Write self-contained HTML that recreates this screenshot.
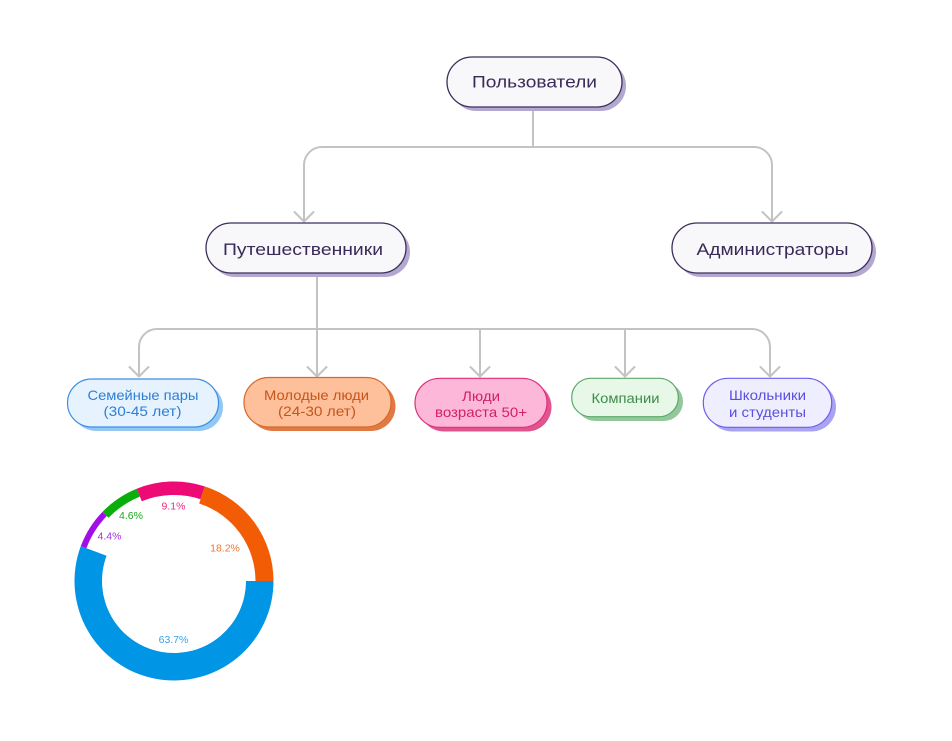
<!DOCTYPE html>
<html>
<head>
<meta charset="utf-8">
<style>
  html,body{margin:0;padding:0;background:#ffffff;}
  svg{display:block;}
  text{font-family:"Liberation Sans","Noto Sans CJK SC",sans-serif;}
</style>
</head>
<body>
<svg width="952" height="741" viewBox="0 0 952 741" xmlns="http://www.w3.org/2000/svg">
  <rect width="952" height="741" fill="#ffffff"/>

  <!-- Connectors -->
  <g fill="none" stroke="#c3c3c3" stroke-width="2" stroke-linecap="round" stroke-linejoin="round">
    <path d="M533 107 V147"/>
    <path d="M304 221 V165 A18 18 0 0 1 322 147 H754 A18 18 0 0 1 772 165 V221"/>
    <path d="M294.5 212 L304 221.5 L313.5 212"/>
    <path d="M762.5 212 L772 221.5 L781.5 212"/>

    <path d="M317 273 V376"/>
    <path d="M139 376 V347 A18 18 0 0 1 157 329 H752 A18 18 0 0 1 770 347 V376"/>
    <path d="M480 329 V376"/>
    <path d="M625 329 V376"/>
    <path d="M129.5 367 L139 376.5 L148.5 367"/>
    <path d="M307.5 367 L317 376.5 L326.5 367"/>
    <path d="M470.5 367 L480 376.5 L489.5 367"/>
    <path d="M615.5 367 L625 376.5 L634.5 367"/>
    <path d="M760.5 367 L770 376.5 L779.5 367"/>
  </g>

  <!-- Top level node -->
  <rect x="451" y="61" width="175" height="50" rx="25" fill="#b2a8d0"/>
  <rect x="447" y="57" width="175" height="50" rx="25" fill="#f8f7fa" stroke="#3e2e5c" stroke-width="1.3"/>
  <text x="534.5" y="87.5" font-size="17" fill="#3a2a57" text-anchor="middle" textLength="125" lengthAdjust="spacingAndGlyphs">Пользователи</text>

  <!-- Tier 2 -->
  <rect x="210" y="227" width="200" height="50" rx="25" fill="#b2a8d0"/>
  <rect x="206" y="223" width="200" height="50" rx="25" fill="#f8f7fa" stroke="#3e2e5c" stroke-width="1.3"/>
  <text x="303" y="255" font-size="17" fill="#3a2a57" text-anchor="middle" textLength="160" lengthAdjust="spacingAndGlyphs">Путешественники</text>

  <rect x="676" y="227" width="200" height="50" rx="25" fill="#b2a8d0"/>
  <rect x="672" y="223" width="200" height="50" rx="25" fill="#f8f7fa" stroke="#3e2e5c" stroke-width="1.3"/>
  <text x="772.5" y="255" font-size="17" fill="#3a2a57" text-anchor="middle" textLength="152" lengthAdjust="spacingAndGlyphs">Администраторы</text>

  <!-- Tier 3 -->
  <!-- Семейные пары -->
  <rect x="72" y="383" width="151" height="48" rx="24" fill="#93c8f2"/>
  <rect x="67.5" y="379" width="151" height="48" rx="24" fill="#e6f2fe" stroke="#3d8fe3" stroke-width="1.2"/>
  <text x="143" y="400" font-size="14" fill="#2d7fd6" text-anchor="middle" textLength="111" lengthAdjust="spacingAndGlyphs">Семейные пары</text>
  <text x="142.5" y="416" font-size="14" fill="#2d7fd6" text-anchor="middle" textLength="78" lengthAdjust="spacingAndGlyphs">(30-45 лет)</text>

  <!-- Молодые люди -->
  <rect x="248.5" y="382" width="147" height="49" rx="24.5" fill="#e07a45"/>
  <rect x="244" y="377.5" width="147" height="49.5" rx="24.5" fill="#fdc09b" stroke="#d8692c" stroke-width="1.2"/>
  <text x="316.5" y="400" font-size="14" fill="#c4561b" text-anchor="middle" textLength="105" lengthAdjust="spacingAndGlyphs">Молодые люди</text>
  <text x="317" y="416" font-size="14" fill="#c4561b" text-anchor="middle" textLength="78" lengthAdjust="spacingAndGlyphs">(24-30 лет)</text>

  <!-- Люди возраста 50+ -->
  <rect x="419.5" y="382.5" width="132" height="49" rx="24.5" fill="#e0558e"/>
  <rect x="415" y="378.3" width="132" height="49" rx="24.5" fill="#fdb8d9" stroke="#df2f7b" stroke-width="1.2"/>
  <text x="481" y="401" font-size="14" fill="#d21e6b" text-anchor="middle" textLength="38" lengthAdjust="spacingAndGlyphs">Люди</text>
  <text x="481" y="417" font-size="14" fill="#d21e6b" text-anchor="middle" textLength="92" lengthAdjust="spacingAndGlyphs">возраста 50+</text>

  <!-- Компании -->
  <rect x="576" y="382.5" width="107" height="38.5" rx="19" fill="#94c89c"/>
  <rect x="571.7" y="378.3" width="106.6" height="38.4" rx="19" fill="#e7f8e8" stroke="#5aa966" stroke-width="1.2"/>
  <text x="625.5" y="403" font-size="14" fill="#3d8d48" text-anchor="middle" textLength="68" lengthAdjust="spacingAndGlyphs">Компании</text>

  <!-- Школьники и студенты -->
  <rect x="707.5" y="382.5" width="128.5" height="49" rx="24.5" fill="#aaa3f2"/>
  <rect x="703.3" y="378.3" width="128.4" height="49" rx="24.5" fill="#efeefe" stroke="#6a5ef0" stroke-width="1.2"/>
  <text x="767.5" y="400" font-size="14" fill="#5a4fe0" text-anchor="middle" textLength="77" lengthAdjust="spacingAndGlyphs">Школьники</text>
  <text x="767.5" y="417" font-size="14" fill="#5a4fe0" text-anchor="middle" textLength="77" lengthAdjust="spacingAndGlyphs">и студенты</text>

  <!-- Donut chart -->
  <path d="M273.5 581 A99.5 99.5 0 1 1 80.8 546.15 L106.56 555.79 A72 72 0 1 0 246 581 Z" fill="#0095e5"/>
  <path d="M80.8 546.15 A99.5 99.5 0 0 1 102.43 511.88 L106.75 516.05 A93.5 93.5 0 0 0 86.42 548.26 Z" fill="#a10ee8"/>
  <path d="M102.43 511.88 A99.5 99.5 0 0 1 136.73 488.74 L139.91 496.62 A91 91 0 0 0 108.54 517.78 Z" fill="#0aae0a"/>
  <path d="M136.73 488.74 A99.5 99.5 0 0 1 204.75 486.37 L200.57 499.21 A86 86 0 0 0 141.78 501.26 Z" fill="#ee0a74"/>
  <path d="M204.75 486.37 A99.5 99.5 0 0 1 273.5 581 L255.5 581 A81.5 81.5 0 0 0 199.18 503.49 Z" fill="#f25c05"/>

  <text x="173.5" y="643" font-size="10.5" fill="#35a2ea" text-anchor="middle">63.7%</text>
  <text x="225" y="551.5" font-size="10.5" fill="#f07532" text-anchor="middle">18.2%</text>
  <text x="173.5" y="509.5" font-size="10.5" fill="#ec2a84" text-anchor="middle">9.1%</text>
  <text x="131" y="519" font-size="10.5" fill="#1aa81a" text-anchor="middle">4.6%</text>
  <text x="109.5" y="539.5" font-size="10.5" fill="#a030e4" text-anchor="middle">4.4%</text>
</svg>
</body>
</html>
